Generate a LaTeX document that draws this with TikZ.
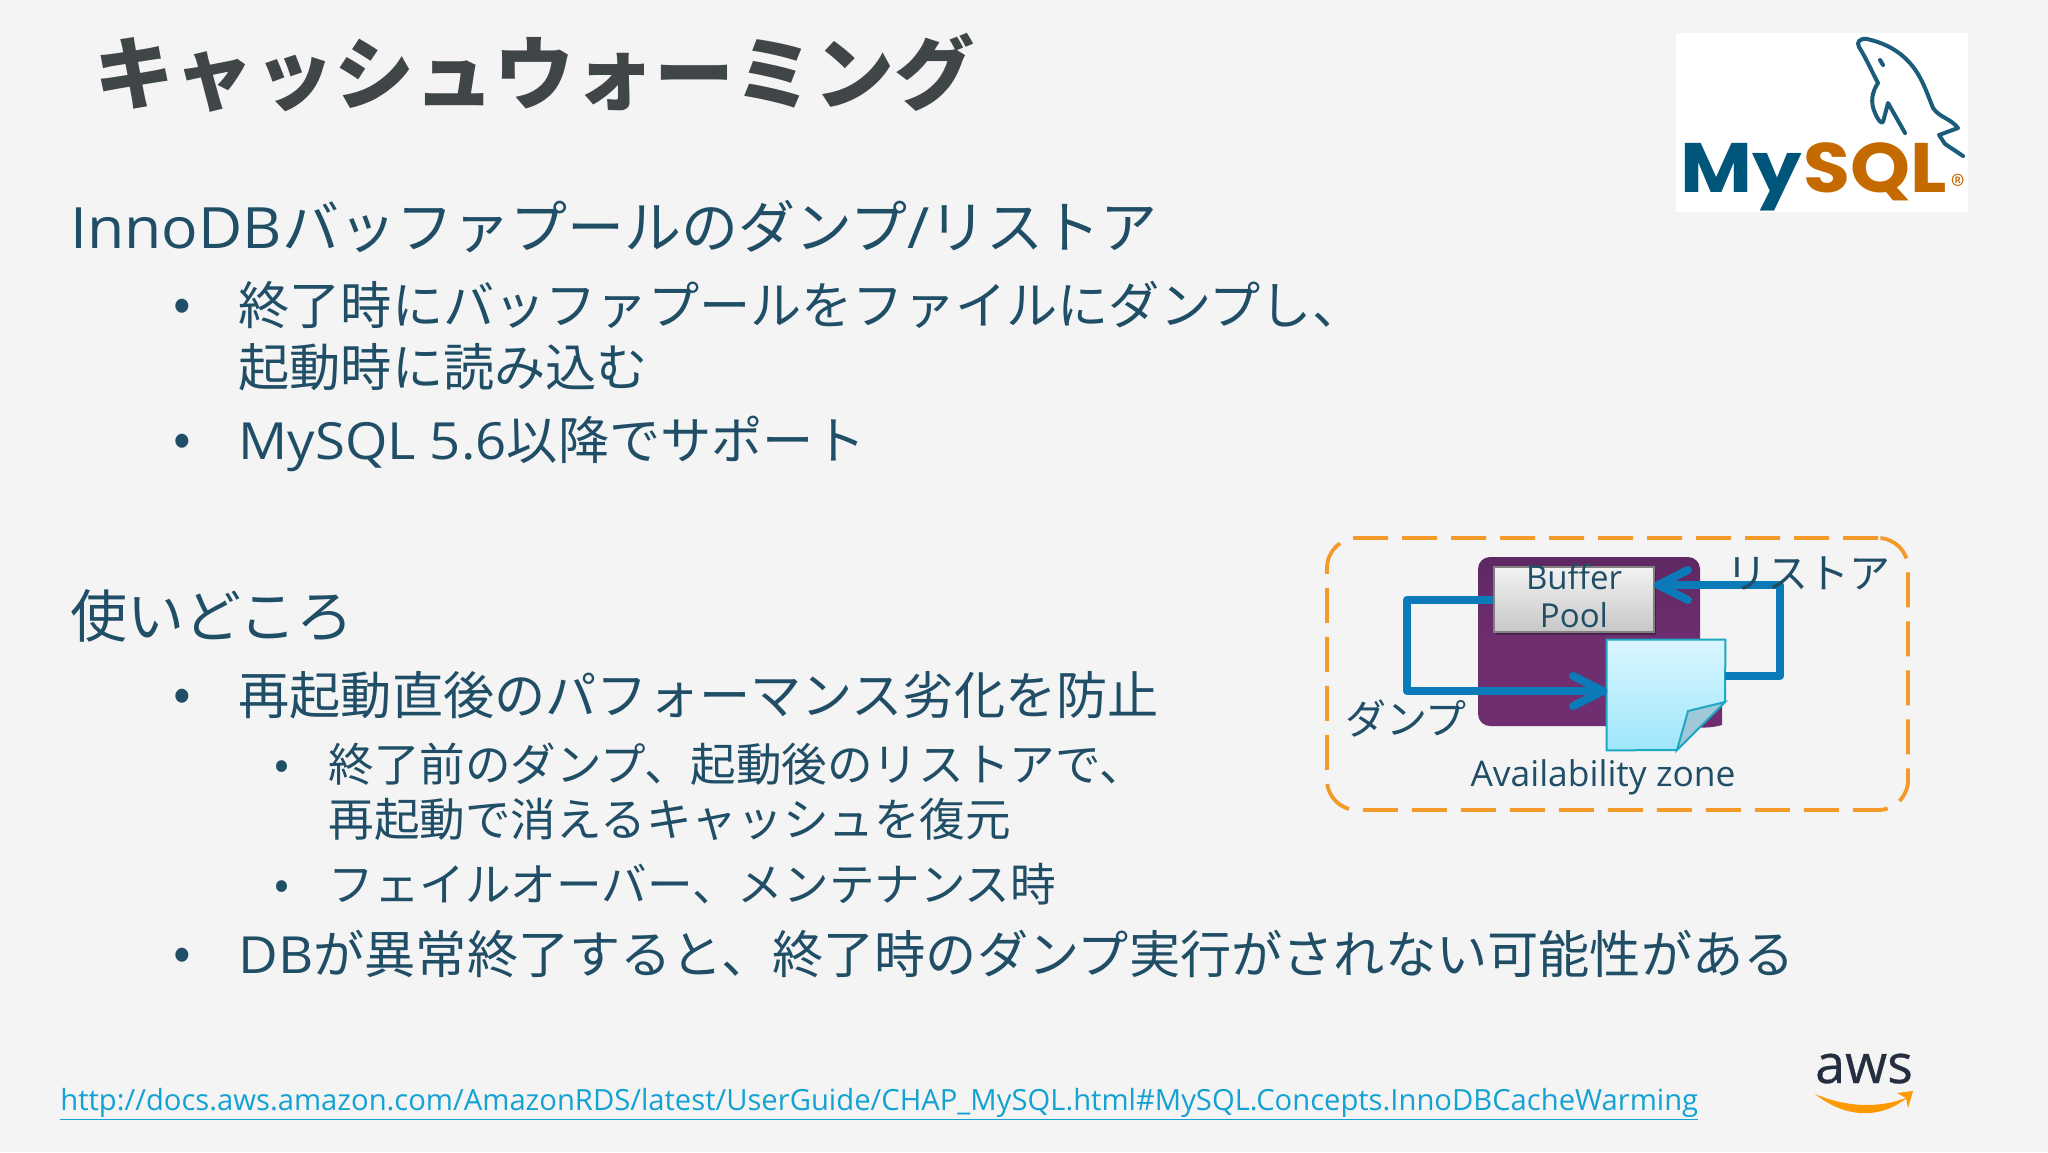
\documentclass[tikz,border=0pt]{standalone}
\usepackage{fontspec}
\setmainfont{Noto Sans CJK JP}
\newfontfamily\logofont{Poppins}
\newfontfamily\ol{Open Sans}
\newfontfamily\olw[FakeStretch=1.065]{Open Sans}
\newfontfamily\awsfont[FakeBold=0.5]{Open Sans}
\usetikzlibrary{arrows.meta,calc}
\definecolor{bgc}{HTML}{F4F4F4}
\definecolor{titlec}{HTML}{404548}
\definecolor{bodyc}{HTML}{1F4E66}
\definecolor{linkc}{HTML}{14A2D2}
\definecolor{orangec}{HTML}{F39A2B}
\definecolor{purplec}{HTML}{6E2E70}
\definecolor{purpletop}{HTML}{5F2862}
\definecolor{arrowc}{HTML}{0A7AB8}
\definecolor{pageline}{HTML}{1FA8C4}
\definecolor{pagetop}{HTML}{DAF6FF}
\definecolor{pagebot}{HTML}{9FE6FB}
\definecolor{foldc}{HTML}{A0C8D8}
\definecolor{mysqlblue}{HTML}{00567A}
\definecolor{dolphin}{HTML}{1A5C7A}
\definecolor{mysqlorange}{HTML}{C46A00}
\definecolor{awsdark}{HTML}{232F3E}
\definecolor{awsorange}{HTML}{FF9900}
\tikzset{
  x=0.5pt,y=-0.5pt,
  txt/.style={anchor=base west,inner sep=0pt,text=bodyc},
  ctxt/.style={anchor=center,inner sep=0pt,text=bodyc},
  titletxt/.style={txt,text=titlec,font=\fontsize{40}{48}\selectfont\bfseries},
  lone/.style={txt,font=\fontsize{28.5}{34}\selectfont},
  ltwo/.style={txt,font=\fontsize{25.6}{30}\selectfont},
  lthree/.style={txt,font=\fontsize{22.8}{28}\selectfont},
  bul/.style={anchor=base,inner sep=0pt,text=bodyc,font=\fontsize{26}{30}\selectfont},
  subbul/.style={anchor=base,inner sep=0pt,text=bodyc,font=\fontsize{22}{26}\selectfont},
  flow/.style={draw=arrowc,line width=4pt,line join=round},
  barb/.style={-{Straight Barb[length=15pt,width=15pt,round]}},
  zone/.style={draw=orangec,line width=1.9pt,rounded corners=15pt,dash pattern=on 17.5pt off 7pt},
  dlabel/.style={ctxt,font=\fontsize{20.5}{24}\selectfont},
  bufbox/.style={draw=black!50,line width=0.8pt,top color=white!95!black,bottom color=black!22,minimum width=80pt,minimum height=32.5pt,inner sep=0pt},
  invis/.style={inner sep=0pt,minimum width=59pt,minimum height=55pt},
  logotxt/.style={anchor=base west,inner sep=0pt,transform shape,font=\fontsize{35}{40}\logofont\bfseries},
  dol/.style={draw=dolphin,line width=2pt,line join=round,line cap=round},
}
\begin{document}
\begin{tikzpicture}
\useasboundingbox (0,0) rectangle (2048,1152);
\fill[bgc] (0,0) rectangle (2048,1152);

% title and body
\node[titletxt] (title) at (94,103) {キャッシュウォーミング};
\node[lone] (h1) at (70,248) {{\olw InnoDB}バッファプールのダンプ{\olw /}リストア};
\node[bul] (b1) at (182,321) {•};
\node[ltwo] (t1) at (238,324) {終了時にバッファプールをファイルにダンプし、};
\node[ltwo] (t1b) at (238,386) {起動時に読み込む};
\node[bul] (b2) at (182,456) {•};
\node[ltwo] (t2) at (238,459) {{\olw MySQL 5.6}以降でサポート};
\node[lone] (h2) at (70,637) {使いどころ};
\node[bul] (b3) at (182,711) {•};
\node[ltwo] (t3) at (238,714) {再起動直後のパフォーマンス劣化を防止};
\node[subbul] (b4) at (282,779) {•};
\node[lthree] (t4) at (328,781) {終了前のダンプ、起動後のリストアで、};
\node[lthree] (t4b) at (328,836) {再起動で消えるキャッシュを復元};
\node[subbul] (b5) at (282,899) {•};
\node[lthree] (t5) at (328,901) {フェイルオーバー、メンテナンス時};
\node[bul] (b6) at (182,970) {•};
\node[ltwo] (t6) at (238,973) {{\olw DB}が異常終了すると、終了時のダンプ実行がされない可能性がある};
\node[txt,text=linkc,font=\fontsize{14.6}{18}\ol] (url) at (60,1110) {\underline{http://docs.aws.amazon.com/AmazonRDS/latest/UserGuide/CHAP\_MySQL.html\#MySQL.Concepts.InnoDBCacheWarming}};

% diagram
\node[zone,minimum width=290.5pt,minimum height=136pt,inner sep=0pt] (zonebox) at (1617.5,674) {};
\fill[purplec] (1690,700) -- (1722,700) -- (1722,725) .. controls (1712,728) and (1700,728) .. (1690,727) -- cycle;
\path[top color=purpletop,bottom color=purplec,middle color=purplec,rounded corners=6pt] (1478,557) rectangle (1700,726);
\fill[black,opacity=0.3] (1496,571) rectangle (1656,635);
\node[bufbox] (buf) at (1574,599.5) {};
\node[ctxt,font=\fontsize{16.5}{20}\ol] (buft) at (1574,577) {Buffer};
\node[ctxt,font=\fontsize{16.5}{20}\ol] (pool) at (1574,615) {Pool};
\node[invis] (doc) at (1666,695) {};
\coordinate (docin) at (1607,691);
\coordinate (docout) at (1725,676);
\coordinate (bufin) at (1654,585);
\path[draw=pageline,line width=1pt,top color=pagetop,bottom color=pagebot]
  (doc.north west) -- (doc.north east) -- (1725,702) -- (1677,750) -- (doc.south west) -- cycle;
\path[draw=pageline,line width=1pt,fill=foldc] (1725,702) -- (1688,711) -- (1677,750) -- cycle;
\draw[flow,barb] (buf.west) -- ++(-86,0) |- (docin);
\draw[flow,barb] (docout) -- ++(55,0) |- (bufin);
\node[dlabel] (rest) at (1808,573) {リストア};
\node[dlabel] (dump) at (1406,719) {ダンプ};
\node[ctxt,font=\fontsize{17.7}{22}\ol] (az) at (1603,777) {Availability zone};

% MySQL logo
\fill[white] (1676,33) rectangle (1968,212);
\begin{scope}[xscale=1.12]
\node[logotxt,text=mysqlblue] (my) at (1680/1.12,192) {My};
\end{scope}
\begin{scope}[xscale=1.09]
\node[logotxt,text=mysqlorange] (sql) at (1803/1.09,192) {SQL};
\end{scope}
\node[anchor=center,inner sep=0pt,text=mysqlorange,font=\fontsize{14}{16}\selectfont] (reg) at (1958,185) {®};
\draw[dol]
  (1859,47) .. controls (1856,42) and (1860,38) .. (1867,39)
  .. controls (1880,42) and (1893,47) .. (1905,58)
  .. controls (1920,72) and (1925,88) .. (1933,108)
  .. controls (1940,118) and (1950,118) .. (1958,128)
  -- (1939,135) -- (1945,144) -- (1963,156);
\draw[dol]
  (1859,47) .. controls (1866,58) and (1872,72) .. (1878,83)
  .. controls (1872,92) and (1870,102) .. (1875,113)
  .. controls (1878,120) and (1881,124) .. (1883,122)
  -- (1888,103) -- (1905,133);
\draw[dol] (1880,60) -- (1883,65);

% AWS logo
\node[anchor=base,inner sep=0pt,text=awsdark,font=\fontsize{27}{32}\awsfont] (awst) at (1864,1083) {aws};
\fill[awsorange] (1815,1094) .. controls (1845,1118) and (1880,1120) .. (1908,1097)
  .. controls (1880,1109) and (1845,1107) .. (1815,1094) -- cycle;
\fill[awsorange] (1897,1093) -- (1913,1091) -- (1908,1108) -- (1906,1098) -- cycle;
\end{tikzpicture}
\end{document}
